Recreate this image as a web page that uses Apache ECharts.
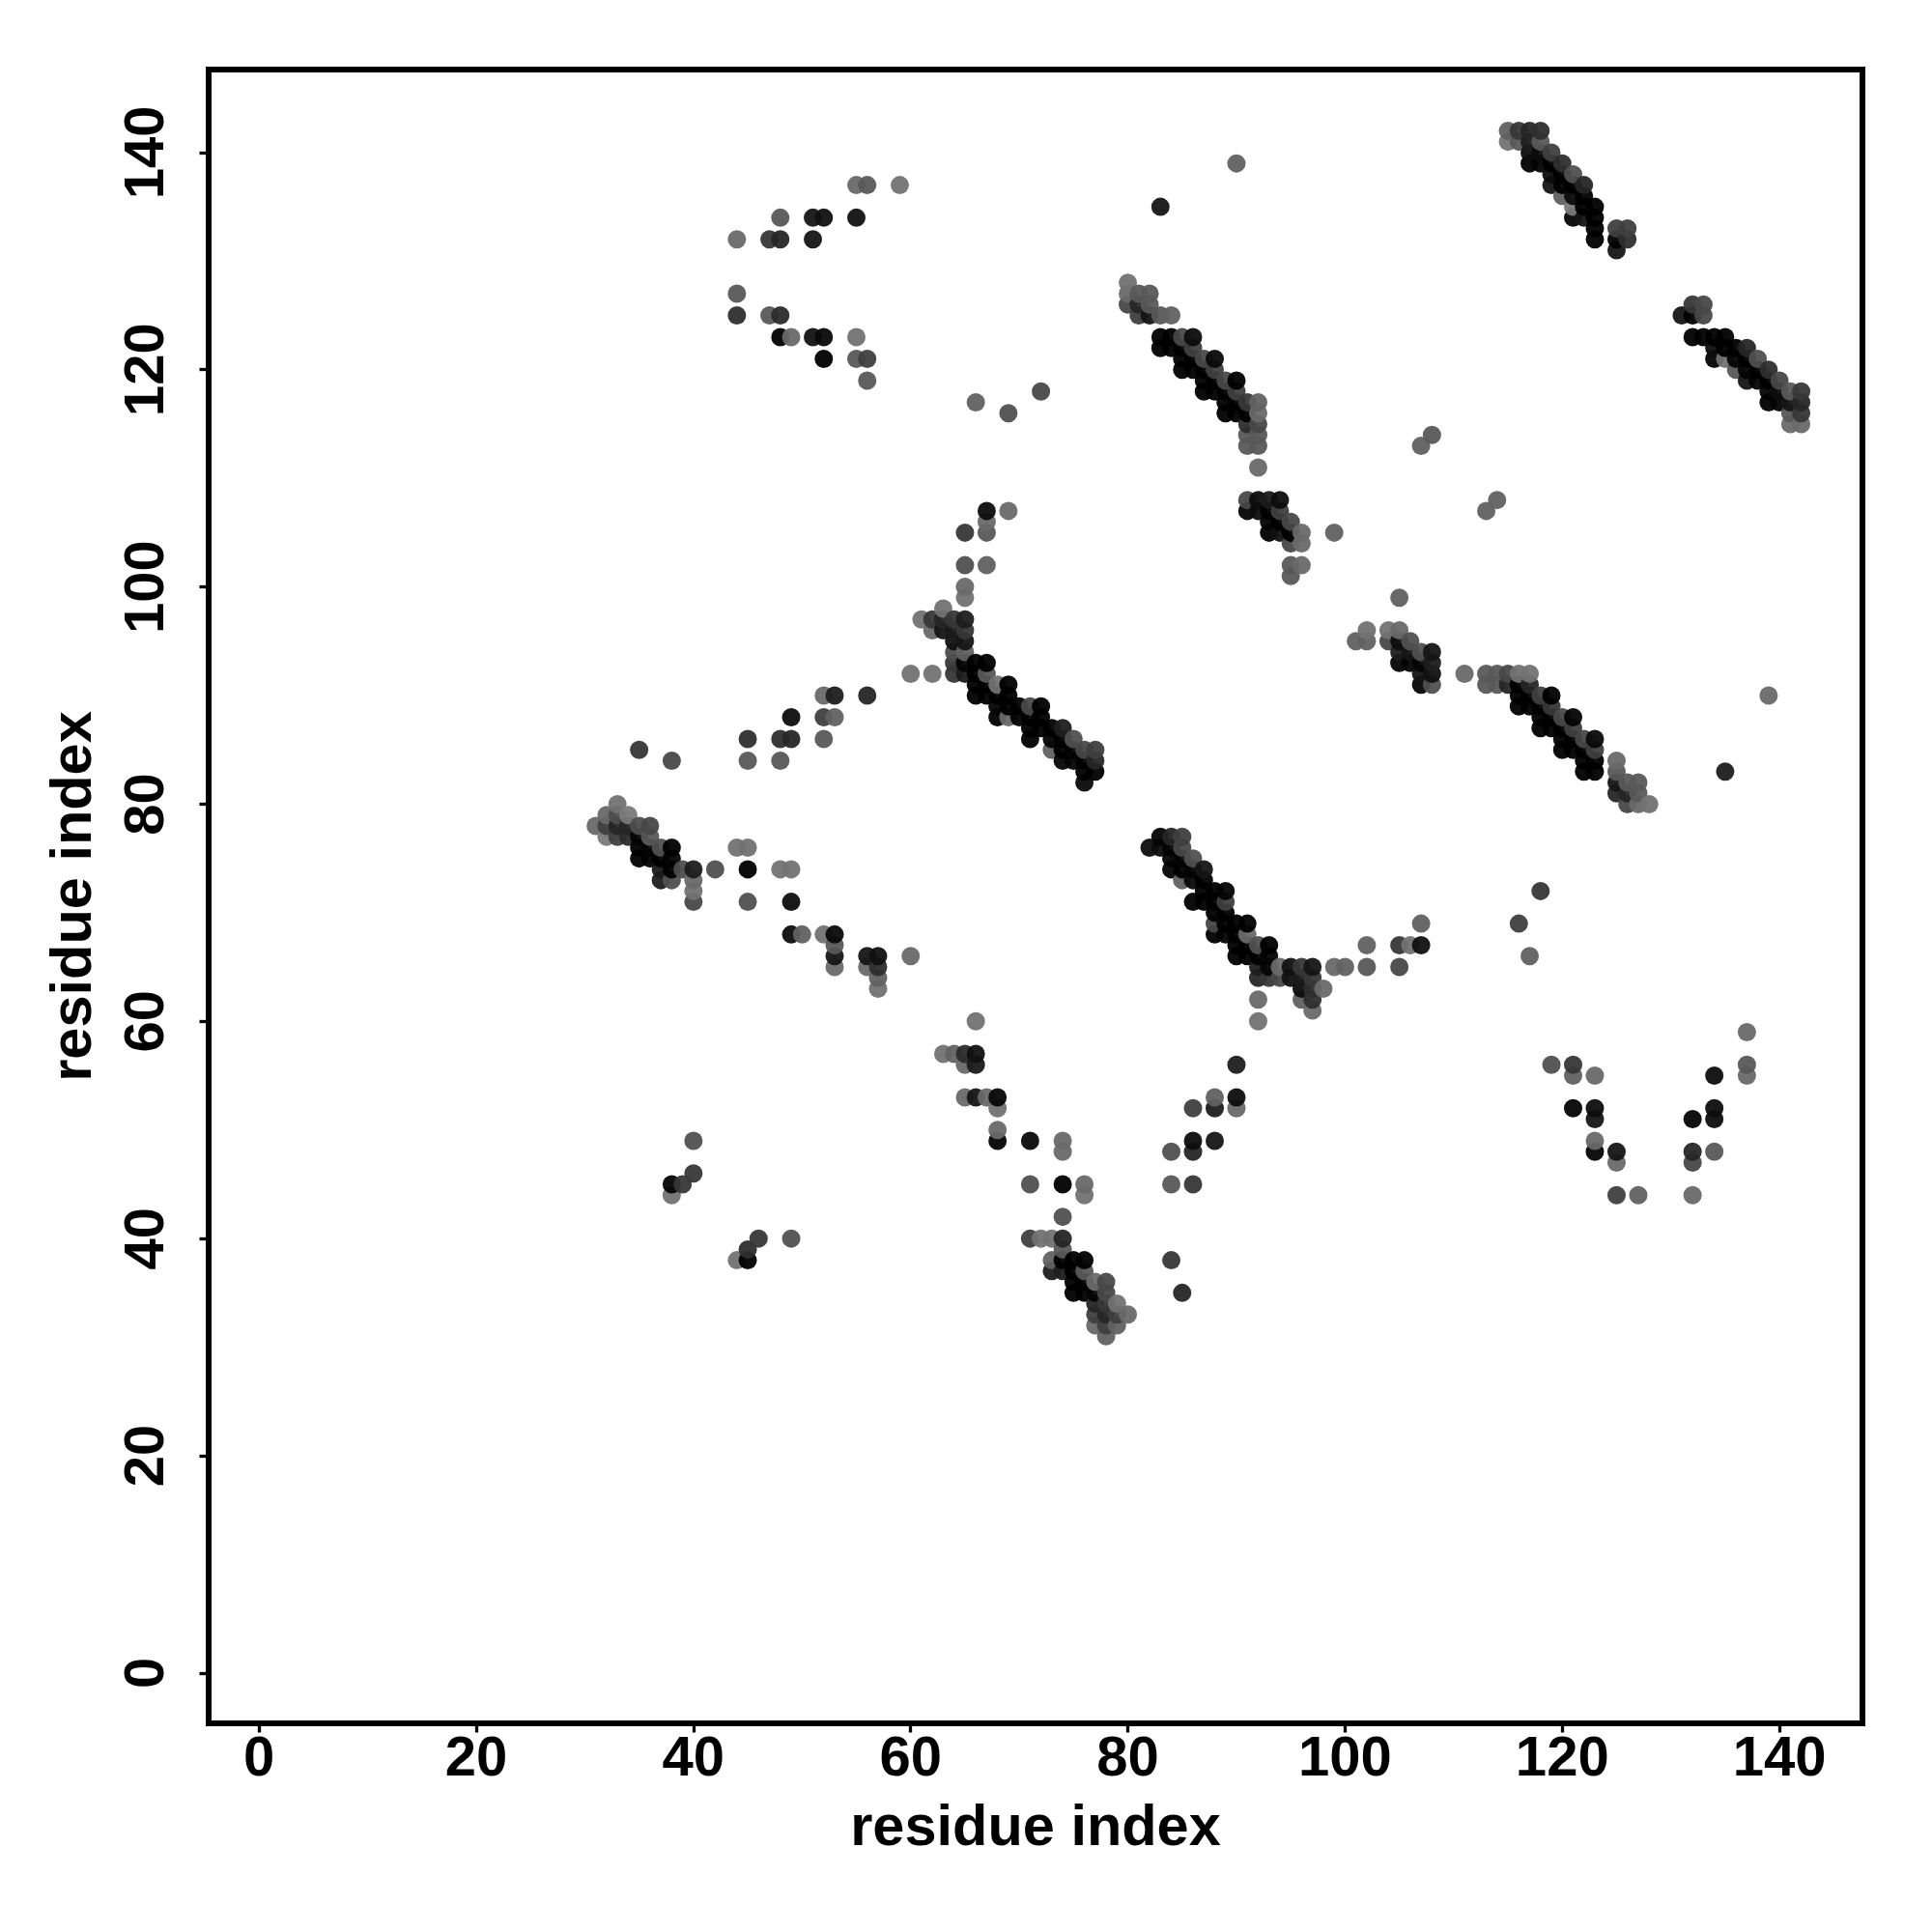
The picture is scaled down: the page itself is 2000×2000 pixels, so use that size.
<!DOCTYPE html>
<html>
<head>
<meta charset="utf-8">
<style>html,body{margin:0;padding:0;background:#fff}#c{width:2000px;height:2000px}</style>
<script src="https://cdn.jsdelivr.net/npm/echarts@6/dist/echarts.min.js"></script>
</head>
<body>
<div id="c"></div>
<script>
const tickValues = [0, 20, 40, 60, 80, 100, 120, 140];
const axisTitle = "residue index";
// [residue x, residue y, grey level]
const clusterTopLeft = [[48,134,0x60],[51,134,0x20],[52,134,0x1c],[55,134,0x1c],[55,137,0x70],[56,137,0x60],[59,137,0x78],[44,132,0x70],[47,132,0x40],[48,132,0x30],[51,132,0x20],[44,127,0x60],[44,125,0x38],[47,125,0x60],[48,125,0x35],[48,123,0x08],[49,123,0x70],[51,123,0x1c],[52,123,0x14],[52,121,0x05],[55,123,0x78],[55,121,0x60],[56,121,0x48],[56,119,0x60]];
const clusterIsolated = [[90,139,0x68],[83,135,0x20],[66,117,0x68],[69,116,0x58],[72,118,0x50],[107,113,0x68],[108,114,0x60],[113,107,0x68],[114,108,0x68],[135,83,0x28],[139,90,0x70],[35,85,0x40],[38,84,0x50],[84,38,0x40],[85,35,0x30],[118,72,0x40],[116,69,0x48],[117,66,0x68],[105,99,0x68]];
const clusterStem = [[65,102,0x58],[67,102,0x68],[65,105,0x40],[67,105,0x60],[67,106,0x70],[67,107,0x18],[69,107,0x70]];
const clusterUpperLeftMid = [[45,86,0x38],[45,84,0x60],[48,86,0x38],[49,86,0x30],[48,84,0x60],[49,88,0x18],[52,86,0x60],[52,88,0x48],[53,88,0x68],[52,90,0x70],[53,90,0x28],[56,90,0x30]];
const clusterA = [[33,80,0x78],[32,79,0x70],[34,79,0x80],[33,79,0x55],[31,78,0x70],[32,78,0x48],[33,78,0x30],[34,78,0x30],[35,78,0x55],[36,78,0x50],[32,77,0x80],[33,77,0x48],[34,77,0x35],[35,77,0x10],[36,77,0x60],[35,76,0x08],[36,76,0x10],[37,76,0x58],[38,76,0x08],[35,75,0x05],[36,75,0x05],[37,75,0x08],[38,75,0x10],[37,74,0x25],[38,74,0x05],[39,74,0x55],[40,74,0x28],[42,74,0x58],[45,74,0x05],[48,74,0x78],[49,74,0x78],[44,76,0x78],[45,76,0x78],[37,73,0x28],[38,73,0x58],[40,73,0x70],[40,72,0x78],[40,71,0x50],[45,71,0x58],[49,71,0x18],[49,68,0x18],[50,68,0x68],[52,68,0x78],[53,68,0x15],[53,67,0x60],[53,66,0x20],[53,65,0x70],[56,66,0x20],[57,66,0x1c],[56,65,0x70],[57,65,0x38],[57,64,0x68],[57,63,0x78],[60,66,0x70],[66,60,0x78],[63,57,0x78],[64,57,0x6a],[65,57,0x35],[66,57,0x1c],[65,56,0x70],[66,56,0x25],[65,53,0x70],[66,53,0x20],[67,53,0x70],[68,53,0x12],[68,52,0x78],[68,50,0x70],[68,49,0x10],[71,49,0x15],[40,49,0x58],[71,45,0x58],[40,46,0x40],[38,45,0x10],[39,45,0x40],[38,44,0x78],[46,40,0x40],[49,40,0x58],[45,39,0x38],[45,38,0x08],[44,38,0x78]];
const clusterB = [[74,49,0x70],[74,48,0x70],[74,45,0x08],[76,45,0x70],[76,44,0x78],[74,42,0x58],[71,40,0x48],[72,40,0x78],[73,40,0x78],[74,40,0x30],[74,39,0x60],[73,38,0x68],[74,38,0x08],[75,38,0x08],[76,38,0x03],[73,37,0x28],[74,37,0x28],[75,37,0x08],[76,37,0x60],[77,36,0x70],[78,36,0x50],[75,36,0x08],[76,36,0x08],[75,35,0x08],[76,35,0x08],[77,35,0x10],[78,35,0x50],[77,34,0x30],[78,34,0x40],[79,34,0x78],[77,33,0x48],[78,33,0x30],[79,33,0x48],[80,33,0x70],[77,32,0x70],[78,32,0x48],[79,32,0x68],[78,31,0x68]];
const clusterC = [[65,100,0x70],[65,99,0x78],[63,98,0x78],[61,97,0x78],[62,97,0x40],[63,97,0x30],[64,97,0x40],[65,97,0x28],[62,96,0x70],[63,96,0x20],[64,96,0x25],[65,96,0x40],[64,95,0x1c],[65,95,0x20],[64,94,0x55],[65,94,0x68],[64,93,0x40],[65,93,0x10],[66,93,0x0a],[67,93,0x08],[60,92,0x78],[62,92,0x78],[64,92,0x40],[65,92,0x25],[66,92,0x05],[67,92,0x60],[66,91,0x08],[67,91,0x05],[68,91,0x78],[69,91,0x03],[66,90,0x05],[67,90,0x05],[68,90,0x05],[69,90,0x08],[68,89,0x10],[69,89,0x05],[70,89,0x05],[71,89,0x50],[72,89,0x05],[68,88,0x0c],[69,88,0x70],[70,88,0x05],[71,88,0x08],[72,88,0x08],[71,87,0x08],[72,87,0x05],[73,87,0x08],[74,87,0x28],[71,86,0x0c],[73,86,0x10],[74,86,0x05],[75,86,0x58],[73,85,0x68],[74,85,0x05],[75,85,0x10],[76,85,0x50],[77,85,0x48],[74,84,0x12],[75,84,0x10],[76,84,0x05],[77,84,0x30],[76,83,0x08],[77,83,0x05],[76,82,0x15]];
const clusterD = [[82,76,0x18],[83,77,0x10],[84,77,0x30],[85,77,0x48],[83,76,0x18],[84,76,0x10],[85,76,0x50],[84,75,0x10],[85,75,0x10],[86,75,0x58],[84,74,0x10],[85,74,0x08],[86,74,0x10],[87,74,0x20],[85,73,0x68],[86,73,0x15],[87,73,0x08],[87,72,0x05],[88,72,0x08],[89,72,0x10],[86,71,0x0c],[87,71,0x08],[88,71,0x05],[89,71,0x48],[88,70,0x05],[89,70,0x08],[88,69,0x50],[89,69,0x05],[90,69,0x05],[91,69,0x08],[88,68,0x08],[89,68,0x10],[90,68,0x05],[91,68,0x70],[90,67,0x05],[91,67,0x05],[92,67,0x58],[93,67,0x08],[90,66,0x08],[91,66,0x08],[92,66,0x05],[93,66,0x10],[92,65,0x28],[93,65,0x10],[94,65,0x70],[95,65,0x1c],[96,65,0x40],[97,65,0x20],[99,65,0x70],[100,65,0x68],[102,65,0x60],[105,65,0x50],[102,67,0x68],[105,67,0x40],[106,67,0x78],[107,67,0x1c],[107,69,0x68],[92,64,0x30],[93,64,0x40],[94,64,0x50],[95,64,0x1c],[96,64,0x25],[97,64,0x40],[96,63,0x18],[97,63,0x38],[98,63,0x70],[96,62,0x68],[97,62,0x38],[97,61,0x70],[92,62,0x70],[92,60,0x78],[90,56,0x28]];
const clusterE = [[102,96,0x78],[101,95,0x68],[102,95,0x68],[104,96,0x78],[105,96,0x70],[104,95,0x50],[105,95,0x18],[106,95,0x58],[105,94,0x28],[106,94,0x20],[107,94,0x58],[108,94,0x20],[105,93,0x10],[106,93,0x10],[107,93,0x10],[108,93,0x28],[107,92,0x20],[108,92,0x1c],[107,91,0x10],[108,91,0x58],[111,92,0x70],[113,92,0x60],[114,92,0x60],[115,92,0x50],[116,92,0x78],[117,92,0x78],[113,91,0x60],[114,91,0x60],[115,91,0x30],[116,91,0x05],[117,91,0x30],[116,90,0x05],[117,90,0x0a],[118,90,0x48],[119,90,0x05],[116,89,0x08],[117,89,0x08],[118,89,0x08],[119,89,0x40],[118,88,0x08],[119,88,0x05],[120,88,0x50],[121,88,0x10],[118,87,0x0c],[119,87,0x08],[120,87,0x05],[121,87,0x48],[120,86,0x08],[121,86,0x08],[122,86,0x50],[123,86,0x15],[120,85,0x0c],[121,85,0x08],[122,85,0x08],[123,85,0x48],[122,84,0x05],[123,84,0x08],[122,83,0x0c],[123,83,0x0c],[125,84,0x70],[125,83,0x60],[125,82,0x20],[126,82,0x60],[127,82,0x60],[125,81,0x30],[126,81,0x30],[127,81,0x60],[126,80,0x50],[127,80,0x70],[128,80,0x78]];
const clusterF = [[80,128,0x78],[80,127,0x70],[81,127,0x60],[82,127,0x60],[80,126,0x50],[81,126,0x30],[82,126,0x60],[81,125,0x48],[82,125,0x20],[83,125,0x60],[84,125,0x68],[83,123,0x05],[84,123,0x05],[85,123,0x50],[86,123,0x18],[83,122,0x0a],[84,122,0x0a],[85,122,0x08],[86,122,0x48],[85,121,0x08],[86,121,0x08],[87,121,0x50],[88,121,0x15],[85,120,0x0c],[86,120,0x08],[87,120,0x05],[88,120,0x48],[87,119,0x08],[88,119,0x05],[89,119,0x50],[90,119,0x08],[87,118,0x0c],[88,118,0x08],[89,118,0x05],[90,118,0x48],[89,117,0x05],[90,117,0x05],[91,117,0x40],[92,117,0x68],[89,116,0x0c],[90,116,0x0a],[91,116,0x08],[92,116,0x70],[91,115,0x38],[92,115,0x50],[91,114,0x60],[92,114,0x60],[91,113,0x60],[92,113,0x60],[92,111,0x70],[91,108,0x50],[92,108,0x18],[93,108,0x25],[94,108,0x18],[91,107,0x10],[92,107,0x18],[93,107,0x08],[94,107,0x48],[93,106,0x10],[94,106,0x0c],[95,106,0x50],[93,105,0x0c],[94,105,0x1c],[95,105,0x05],[96,105,0x70],[99,105,0x68],[95,104,0x50],[96,104,0x70],[95,102,0x60],[96,102,0x70],[95,101,0x60]];
const clusterG = [[115,142,0x68],[116,142,0x40],[117,142,0x30],[118,142,0x38],[115,141,0x78],[116,141,0x60],[117,141,0x28],[118,141,0x60],[117,140,0x18],[118,140,0x18],[119,140,0x48],[117,139,0x08],[118,139,0x10],[119,139,0x05],[120,139,0x38],[119,138,0x18],[120,138,0x08],[121,138,0x58],[119,137,0x20],[120,137,0x08],[121,137,0x05],[122,137,0x30],[120,136,0x68],[121,136,0x18],[122,136,0x08],[121,135,0x80],[122,135,0x08],[123,135,0x0a],[121,134,0x10],[122,134,0x20],[123,134,0x08],[123,133,0x08],[125,133,0x48],[126,133,0x48],[123,132,0x08],[125,132,0x08],[126,132,0x38],[125,131,0x20]];
const clusterH = [[131,125,0x20],[132,126,0x40],[133,126,0x50],[132,125,0x05],[133,125,0x50],[132,123,0x08],[133,123,0x08],[134,123,0x08],[135,123,0x08],[134,122,0x18],[135,122,0x08],[136,122,0x08],[137,122,0x30],[134,121,0x10],[135,121,0x78],[136,121,0x10],[137,121,0x08],[138,121,0x58],[136,120,0x60],[137,120,0x10],[138,120,0x08],[139,120,0x38],[137,119,0x20],[138,119,0x10],[139,119,0x05],[140,119,0x50],[139,118,0x10],[140,118,0x18],[141,118,0x60],[142,118,0x40],[139,117,0x08],[140,117,0x10],[141,117,0x20],[142,117,0x30],[141,116,0x60],[142,116,0x40],[141,115,0x70],[142,115,0x70]];
const clusterVLeft = [[84,48,0x58],[84,45,0x60],[86,45,0x40],[86,48,0x30],[86,49,0x18],[86,52,0x48],[88,49,0x20],[88,52,0x28],[88,53,0x68],[90,52,0x70],[90,53,0x18]];
const clusterVRight = [[119,56,0x58],[121,56,0x40],[121,55,0x68],[123,55,0x70],[121,52,0x10],[123,52,0x18],[123,51,0x20],[123,49,0x70],[123,48,0x10],[125,48,0x20],[125,47,0x70],[125,44,0x48],[127,44,0x68],[132,44,0x70],[132,47,0x50],[132,48,0x30],[132,51,0x10],[134,51,0x18],[134,52,0x18],[134,55,0x18],[134,48,0x60],[137,55,0x70],[137,56,0x60],[137,59,0x70]];

const allPoints = [].concat(clusterTopLeft, clusterIsolated, clusterStem, clusterUpperLeftMid, clusterA, clusterB, clusterC, clusterD, clusterE, clusterF, clusterG, clusterH, clusterVLeft, clusterVRight);
// drawn in residue order so later points sit above earlier ones
allPoints.sort((p, q) => p[0] - q[0] || p[1] - q[1]);

const FONT = "'Liberation Sans', Arial, sans-serif";
function axis(extra) {
  return Object.assign({
    type: 'value',
    min: -4.64,
    max: 147.64,
    splitLine: { show: false },
    axisLine: { show: false, onZero: false },
    axisTick: { show: true, length: 9.5, customValues: tickValues, lineStyle: { color: '#000', width: 3.3 } },
    name: axisTitle,
    nameLocation: 'middle',
    nameTextStyle: { fontFamily: FONT, fontWeight: 'bold', fontSize: 59.5, color: '#000' }
  }, extra);
}
const chart = echarts.init(document.getElementById('c'), null, { renderer: 'canvas' });
chart.setOption({
  animation: false,
  backgroundColor: '#fff',
  grid: { show: true, left: 216, top: 72, right: 72, bottom: 216, borderColor: '#000', borderWidth: 6, backgroundColor: 'transparent', containLabel: false },
  xAxis: axis({
    nameGap: 80,
    axisLabel: { customValues: tickValues, fontFamily: FONT, fontWeight: 'bold', fontSize: 58, color: '#000', margin: 9 }
  }),
  yAxis: axis({
    nameGap: 108,
    axisLabel: { customValues: tickValues, rotate: 90, fontFamily: FONT, fontWeight: 'bold', fontSize: 58, color: '#000', margin: 34 }
  }),
  series: [{
    type: 'scatter',
    data: allPoints,
    symbol: 'circle',
    symbolSize: 19,
    clip: false,
    itemStyle: {
      opacity: 0.95,
      color: (p) => { const g = Math.max(0, Math.round((p.data[2] - 12) / 0.95)); return `rgb(${g},${g},${g})`; }
    },
    emphasis: { disabled: true }
  }]
});
</script>
</body>
</html>
